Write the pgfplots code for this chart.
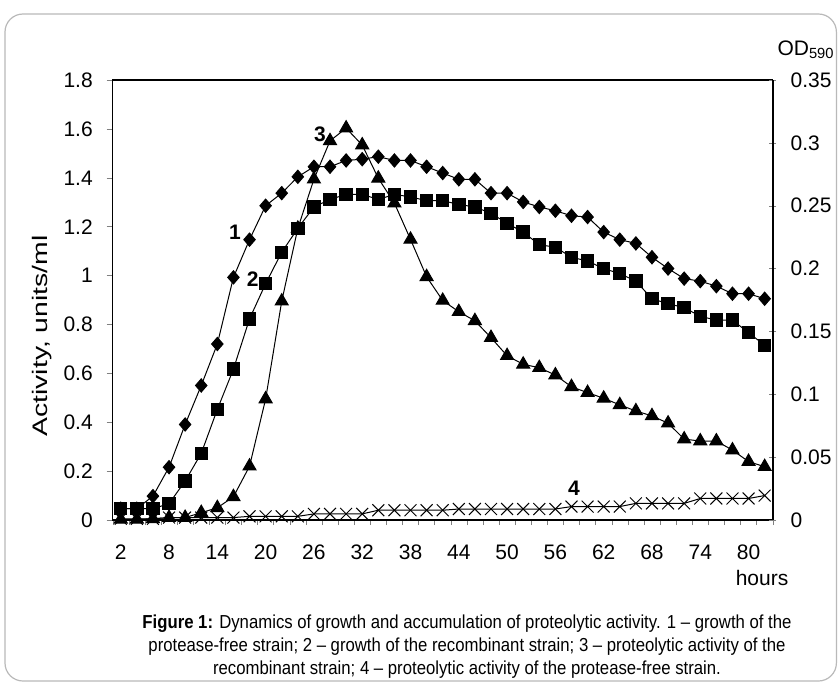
\documentclass[border=0pt]{standalone}
\usepackage{fontspec}
\setmainfont{Liberation Sans}
\newfontfamily\capfont[FakeStretch=0.89]{Liberation Sans}
\newfontfamily\ylabfont[FakeStretch=1.35]{Liberation Sans}
\usepackage{pgfplots}
\pgfplotsset{compat=1.18}

% sampling times, h
% growth (OD590): 1 = protease-free strain, 2 = recombinant strain
% proteolytic activity (units/ml): 3 = recombinant strain, 4 = protease-free strain
\pgfplotstableread{
h   od1    od2    act3   act4
2   0.009  0.009  0.003  0.005
4   0.009  0.009  0.003  0.005
6   0.019  0.009  0.005  0.005
8   0.042  0.013  0.010  0.010
10  0.076  0.031  0.010  0.010
12  0.107  0.053  0.030  0.010
14  0.140  0.088  0.050  0.010
16  0.193  0.120  0.095  0.010
18  0.223  0.160  0.220  0.015
20  0.250  0.188  0.495  0.015
22  0.260  0.213  0.895  0.015
24  0.273  0.232  1.193  0.015
26  0.281  0.249  1.394  0.025
28  0.281  0.255  1.551  0.025
30  0.286  0.259  1.603  0.025
32  0.287  0.259  1.534  0.025
34  0.289  0.255  1.398  0.040
36  0.286  0.259  1.296  0.040
38  0.286  0.257  1.148  0.040
40  0.281  0.254  0.995  0.040
42  0.276  0.254  0.898  0.040
44  0.271  0.251  0.852  0.045
46  0.271  0.249  0.815  0.045
48  0.260  0.244  0.746  0.045
50  0.260  0.236  0.672  0.045
52  0.253  0.229  0.637  0.045
54  0.249  0.219  0.623  0.045
56  0.246  0.217  0.593  0.045
58  0.242  0.209  0.545  0.055
60  0.241  0.206  0.521  0.055
62  0.229  0.200  0.498  0.055
64  0.223  0.196  0.471  0.055
66  0.220  0.190  0.446  0.068
68  0.209  0.176  0.426  0.068
70  0.200  0.172  0.396  0.068
72  0.192  0.169  0.331  0.068
74  0.190  0.162  0.323  0.088
76  0.186  0.159  0.323  0.088
78  0.180  0.159  0.286  0.088
80  0.180  0.149  0.239  0.088
82  0.176  0.139  0.218  0.100
}\growthdata

\begin{document}
\begin{tikzpicture}
\useasboundingbox (0,0) rectangle (419pt,346pt);
\draw[gray!55, line width=0.6pt, rounded corners=9pt] (2.5pt,5.5pt) rectangle (418.2pt,339pt);

\pgfplotsset{
  panel/.style={
    scale only axis, width=330pt, height=220pt,
    at={(56.35pt,86pt)}, anchor=south west,
    xmin=1, xmax=83,
    tick label style={font=\fontsize{10.5}{12}\selectfont},
    every axis plot/.append style={black, line width=0.5pt},
  },
}

% proteolytic activity, left scale
\begin{axis}[panel,
  ymin=0, ymax=1.8,
  axis line style={line width=0.6pt},
  xtick pos=bottom, ytick pos=left,
  tick align=outside,
  xtick={2,8,14,20,26,32,38,44,50,56,62,68,74,80},
  xticklabels={2,8,14,20,26,32,38,44,50,56,62,68,74,80},
  minor xtick={1,3,...,83},
  major x tick style={draw=none},
  minor tick length=2.5pt, major tick length=3pt,
  xticklabel style={anchor=base, inner sep=0pt, yshift=-16.7pt},
  ytick={0,0.2,0.4,0.6,0.8,1,1.2,1.4,1.6,1.8},
  yticklabels={0,0.2,0.4,0.6,0.8,1,1.2,1.4,1.6,1.8},
  yticklabel style={anchor=east, inner sep=0pt, xshift=-6.8pt},
  clip=false,
]
\addplot[mark=triangle*, mark size=3.75pt, mark options={solid, fill=black}] table[x=h, y=act3] {\growthdata};
\addplot[mark=x, mark size=4.2pt, mark options={solid}] table[x=h, y=act4] {\growthdata};
\node[font=\bfseries\fontsize{10.5}{12}\selectfont] at (axis cs:16.2,1.178) {1};
\node[font=\bfseries\fontsize{10.5}{12}\selectfont] at (axis cs:18.4,0.986) {2};
\node[font=\bfseries\fontsize{10.5}{12}\selectfont] at (axis cs:26.75,1.579) {3};
\node[font=\bfseries\fontsize{10.5}{12}\selectfont] at (axis cs:58.3,0.131) {4};
\end{axis}

% growth, right scale
\begin{axis}[panel,
  ymin=0, ymax=0.35,
  axis x line=none, axis y line*=right,
  axis line style={line width=0.9pt},
  ytick={0,0.05,0.1,0.15,0.2,0.25,0.3,0.35},
  yticklabels={0,0.05,0.1,0.15,0.2,0.25,0.3,0.35},
  ytick align=center, major tick length=3.5pt,
  yticklabel style={anchor=west, inner sep=0pt, xshift=7pt},
]
\addplot[mark=diamond*, mark size=3.3pt, mark options={solid, fill=black, xscale=1.15}] table[x=h, y=od1] {\growthdata};
\addplot[mark=square*, mark size=3.1pt, mark options={solid, fill=black}] table[x=h, y=od2] {\growthdata};
\end{axis}

\node[font=\ylabfont\fontsize{10.5}{12}\selectfont, rotate=90] at (21pt,178pt) {Activity, units/ml};
\node[font=\fontsize{10.5}{12}\selectfont] at (403pt,321pt) {OD\textsubscript{590}};
\node[font=\fontsize{10.5}{12}\selectfont] at (381pt,57pt) {hours};
\node[align=center, font=\capfont\fontsize{9.4}{11.5}\selectfont] at (233.5pt,22.5pt)
  {\textbf{Figure 1:} Dynamics of growth and accumulation of proteolytic activity. 1 – growth of the\\
   protease-free strain; 2 – growth of the recombinant strain; 3 – proteolytic activity of the\\
   recombinant strain; 4 – proteolytic activity of the protease-free strain.};
\end{tikzpicture}
\end{document}
